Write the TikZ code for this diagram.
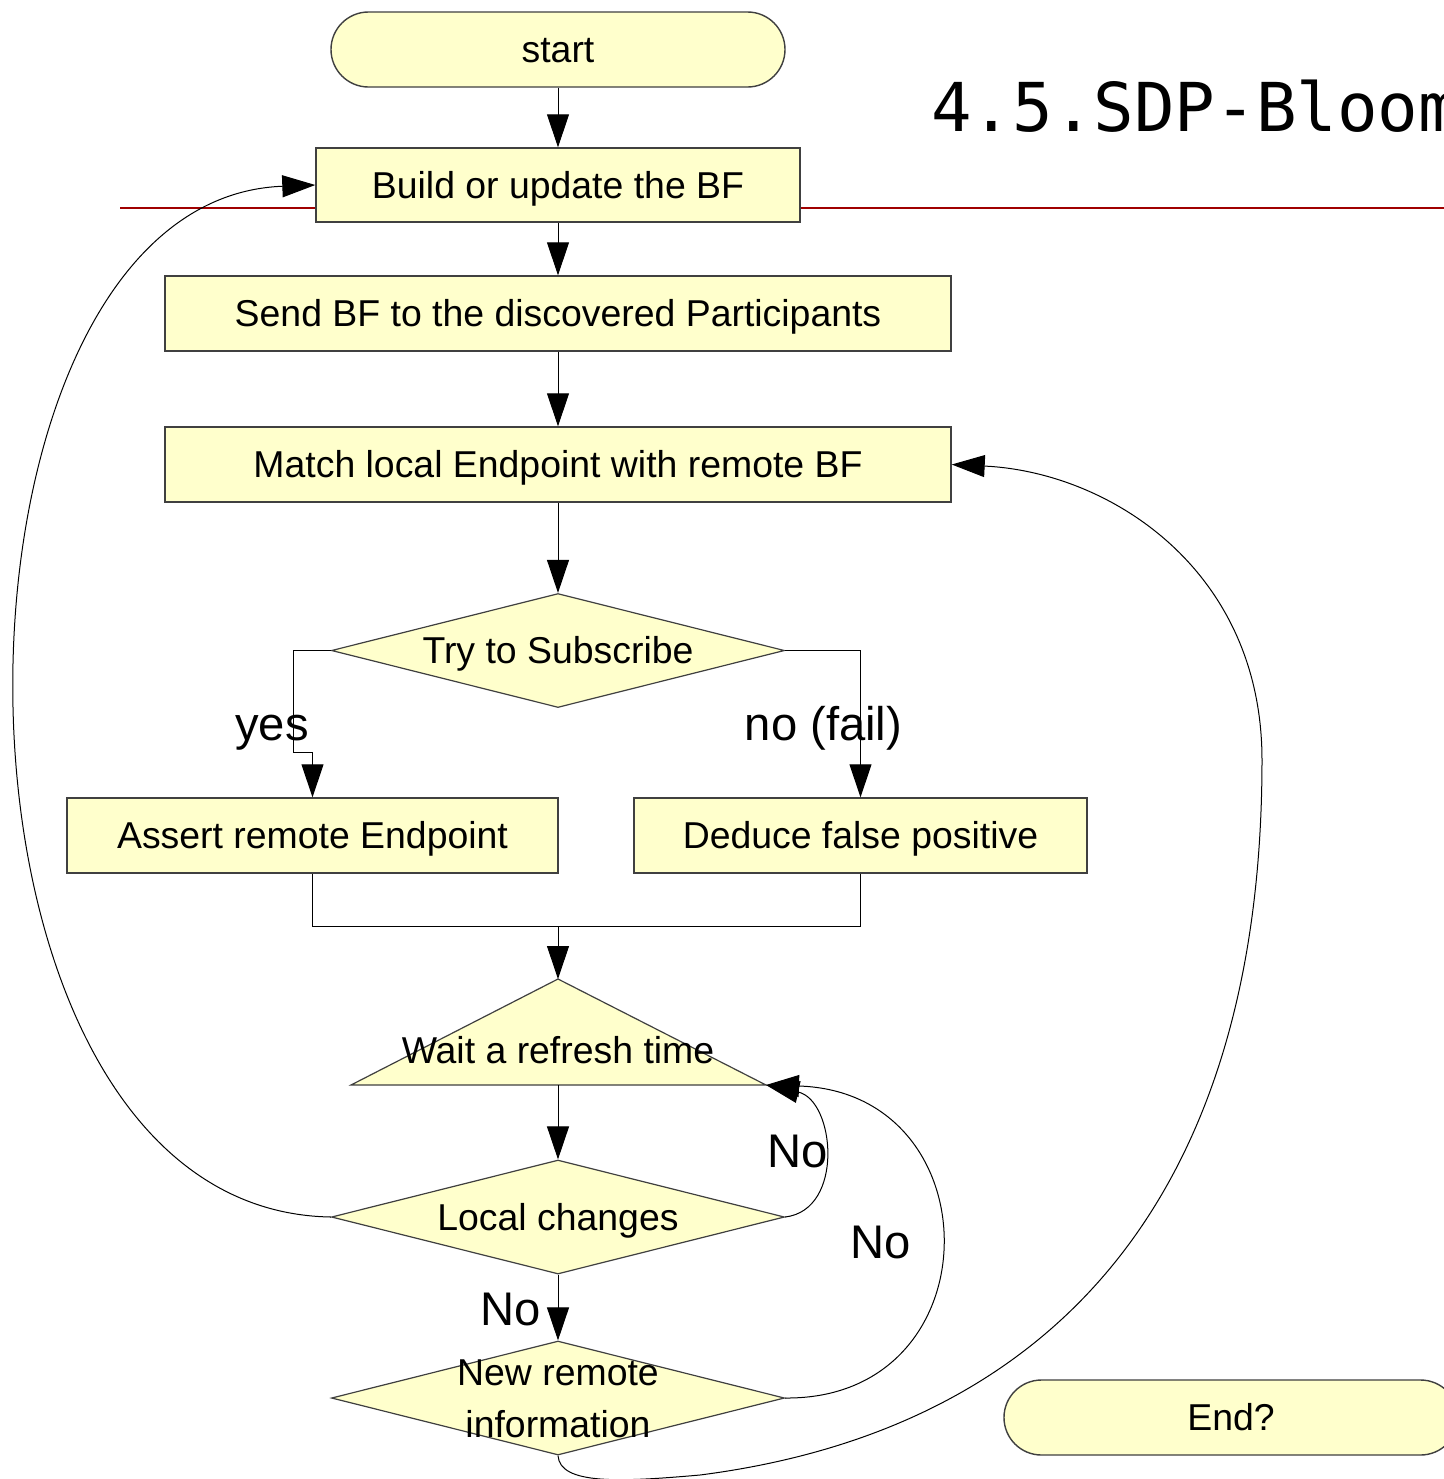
\documentclass[tikz,border=0pt]{standalone}
\usepackage{fontspec}
\setmainfont{Liberation Sans}
\newfontfamily\titlefont{DejaVu Sans Mono}
\usetikzlibrary{arrows.meta,shapes.geometric}

\tikzset{
  boxtext/.style={font=\fontsize{18.7pt}{22pt}\selectfont, text height=13.4pt, text depth=0pt},
  stepbox/.style={rectangle, draw=black!75, line width=0.7pt, fill=paleyellow,
    inner sep=0pt, boxtext},
  terminal/.style={stepbox, rounded corners=18.75pt, minimum width=227pt, minimum height=37.5pt},
  decision/.style={diamond, aspect=4, draw=black!75, line width=0.6pt, fill=paleyellow,
    inner sep=0pt, minimum width=226.5pt, minimum height=57pt, boxtext},
  plaintext/.style={inner sep=0pt, font=\fontsize{18.7pt}{22pt}\selectfont},
  lbl/.style={inner sep=0pt, anchor=base, font=\fontsize{23.6pt}{28pt}\selectfont},
  conn/.style={draw=black, line width=0.5pt},
  arr/.style={conn, -{Triangle[length=16.5pt,width=11pt]}},
}
\definecolor{paleyellow}{RGB}{255,255,204}
\definecolor{rulered}{RGB}{160,0,0}

\begin{document}
\begin{tikzpicture}[x=0.5pt,y=-0.5pt]
\useasboundingbox (0,0) rectangle (1444,1479);
\clip (0,0) rectangle (1444,1479);
\fill[white] (0,0) rectangle (1444,1479);

% heading and rule
\node[inner sep=0pt, anchor=base west, font=\titlefont\fontsize{33.7pt}{40pt}\selectfont]
  (title) at (931,131) {4.5.SDP-Bloom};
\coordinate (ruleL) at (120,208);
\coordinate (ruleR) at (1444,208);
\draw[rulered, line width=1pt] (ruleL) -- (ruleR);

% nodes
\node[terminal] (start) at (558,49.5) {start};
\node[stepbox, minimum width=242pt, minimum height=37pt] (build) at (558,185) {Build or update the BF};
\node[stepbox, minimum width=393pt, minimum height=37.5pt] (send) at (558,313.5) {Send BF to the discovered Participants};
\node[stepbox, minimum width=393pt, minimum height=37.5pt] (match) at (558,464.5) {Match local Endpoint with remote BF};
\node[decision] (try) at (558,650.5) {Try to Subscribe};
\node[stepbox, minimum width=245.5pt, minimum height=37.5pt] (assert) at (312.5,835.5) {Assert remote Endpoint};
\node[stepbox, minimum width=226.5pt, minimum height=37.5pt] (deduce) at (860.5,835.5) {Deduce false positive};

% refresh wait (triangle)
\coordinate (waitTop) at (558,979);
\coordinate (waitL) at (351,1085);
\coordinate (waitR) at (766,1085);
\coordinate (waitB) at (558,1085);
\filldraw[fill=paleyellow, draw=black!75, line width=0.6pt] (waitTop) -- (waitR) -- (waitL) -- cycle;
\node[plaintext, anchor=base] (wait) at (558,1063) {Wait a refresh time};

\node[decision] (local) at (558,1217) {Local changes};
\node[decision] (newrem) at (558,1398) {};
\node[plaintext, anchor=base] (newremA) at (558,1385) {New remote};
\node[plaintext, anchor=base] (newremB) at (558,1437) {information};

\node[terminal] (end) at (1231,1417.5) {End?};

% straight flow
\draw[arr] (start) -- (build);
\draw[arr] (build) -- (send);
\draw[arr] (send) -- (match);
\draw[arr] (match) -- (try.north);
\draw[arr] (try.west) -| (293,752) -| (assert.north);
\draw[arr] (try.east) -| (deduce.north);
\coordinate (join) at (558,926);
\draw[conn] (assert.south) -- ++(0,53) -| (deduce.south);
\draw[arr] (join) -- (waitTop);
\draw[arr] (waitB) -- (local.north);
\draw[arr] (local.south) -- (newrem.north);

% loops back
\draw[arr] (local.west) .. controls (-90,1210) and (-80,200) .. (build.west);
\draw[arr] (local.east) .. controls (845,1210) and (835,1100) .. (waitR);
\draw[arr] (newrem.east) .. controls (995,1400) and (995,1092) .. (waitR);
\draw[conn] (newrem.south) .. controls (560,1485) and (620,1482) .. (700,1475)
  .. controls (1050,1430) and (1262,1200) .. (1262,760);
\coordinate (loopTop) at (1262,760);
\draw[arr] (loopTop) .. controls (1262,570) and (1110,472) .. (match.east);

% branch labels
\node[lbl] (yes) at (272,740) {yes};
\node[lbl] (nofail) at (823.5,740) {no (fail)};
\node[lbl] (noA) at (797.5,1167) {No};
\node[lbl] (noB) at (881,1258) {No};
\node[lbl] (noC) at (511,1325) {No};
\end{tikzpicture}
\end{document}
